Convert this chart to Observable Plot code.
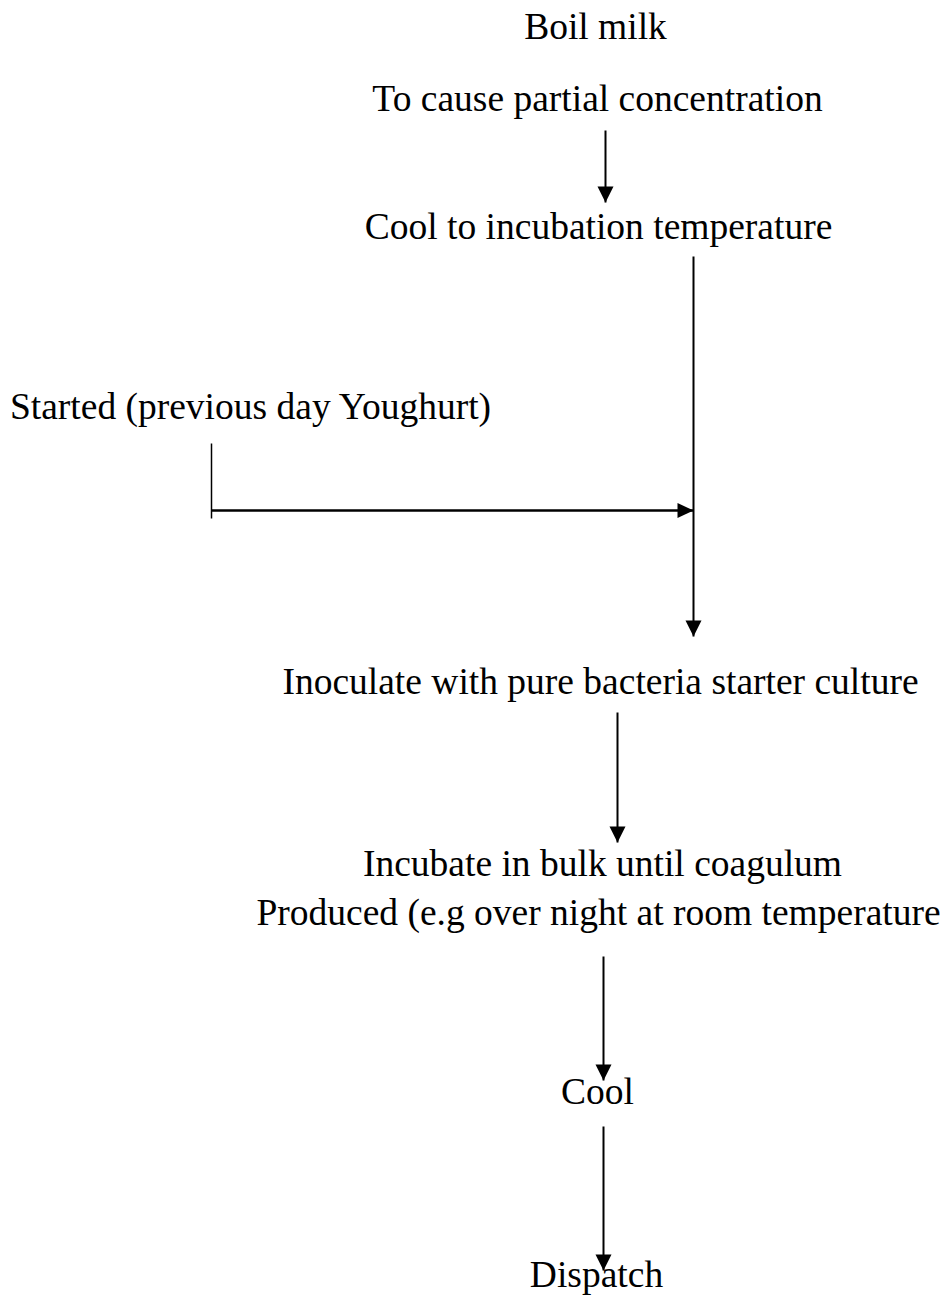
<!DOCTYPE html>
<html>
<head>
<meta charset="utf-8">
<script src="https://cdn.jsdelivr.net/npm/d3@7"></script>
<script src="https://cdn.jsdelivr.net/npm/@observablehq/plot@0.6"></script>
<style>
  html, body { margin: 0; padding: 0; background: #fff; }
  #chart svg { display: block; }
</style>
</head>
<body>
<div id="chart"></div>
<script>
// Flowchart steps (labels) and their anchor points (centre x, text baseline y) in diagram units
const stepLabels = [
  "Boil milk",
  "To cause partial concentration",
  "Cool to incubation temperature",
  "Started (previous day Youghurt)",
  "Inoculate with pure bacteria starter culture",
  "Incubate in bulk until coagulum",
  "Produced (e.g over night at room temperature",
  "Cool",
  "Dispatch"
];
const stepX = [595, 597, 598, 250, 600, 602, 598, 597, 596];
const stepBaseline = [38, 110, 238, 418, 693, 875, 924, 1103, 1286];

// Connectors: start and end (arrow tip) points, and whether an arrowhead is drawn
const linkX1 = [605, 693, 211, 211, 617, 603, 603];
const linkY1 = [130, 256, 510, 443, 712, 956, 1126];
const linkX2 = [605, 693, 693, 211, 617, 603, 603];
const linkY2 = [202, 636, 510, 518, 842, 1080, 1270];
const linkHead = ["down", "down", "right", "none", "down", "down", "down"];

const steps = stepLabels.map((label, i) => ({label, x: stepX[i], y: stepBaseline[i]}));
const links = linkX1.map((x1, i) => ({x1, y1: linkY1[i], x2: linkX2[i], y2: linkY2[i], head: linkHead[i]}));
const heads = links.filter(d => d.head !== "none");

const W = 941, H = 1295, FS = 37.5;

// arrowhead symbols with the tip at the origin
const headDown = {draw(ctx) { ctx.moveTo(0, 0); ctx.lineTo(-8, -16); ctx.lineTo(8, -16); ctx.closePath(); }};
const headRight = {draw(ctx) { ctx.moveTo(0, 0); ctx.lineTo(-16, -7.5); ctx.lineTo(-16, 7.5); ctx.closePath(); }};

const chart = Plot.plot({
  width: W,
  height: H,
  margin: 0,
  style: {background: "#fff"},
  x: {domain: [0, W], axis: null},
  y: {domain: [0, H], reverse: true, axis: null},
  marks: [
    Plot.link(links, {
      x1: "x1", y1: "y1", x2: "x2", y2: "y2",
      stroke: "#000",
      strokeWidth: d => d.head === "none" ? 1.5 : d.head === "right" ? 2.5 : 2
    }),
    Plot.dot(heads.filter(d => d.head === "down"), {
      x: "x2", y: "y2", symbol: headDown, r: 10, fill: "#000", stroke: "none"
    }),
    Plot.dot(heads.filter(d => d.head === "right"), {
      x: "x2", y: "y2", symbol: headRight, r: 10, fill: "#000", stroke: "none"
    }),
    Plot.text(steps, {
      x: "x", y: "y", text: "label",
      textAnchor: "middle",
      lineAnchor: "middle",
      dy: -0.32 * FS,
      fontSize: FS,
      fontFamily: "Liberation Serif, 'Times New Roman', serif",
      fill: "#000"
    })
  ]
});
document.getElementById("chart").appendChild(chart);
</script>
</body>
</html>
